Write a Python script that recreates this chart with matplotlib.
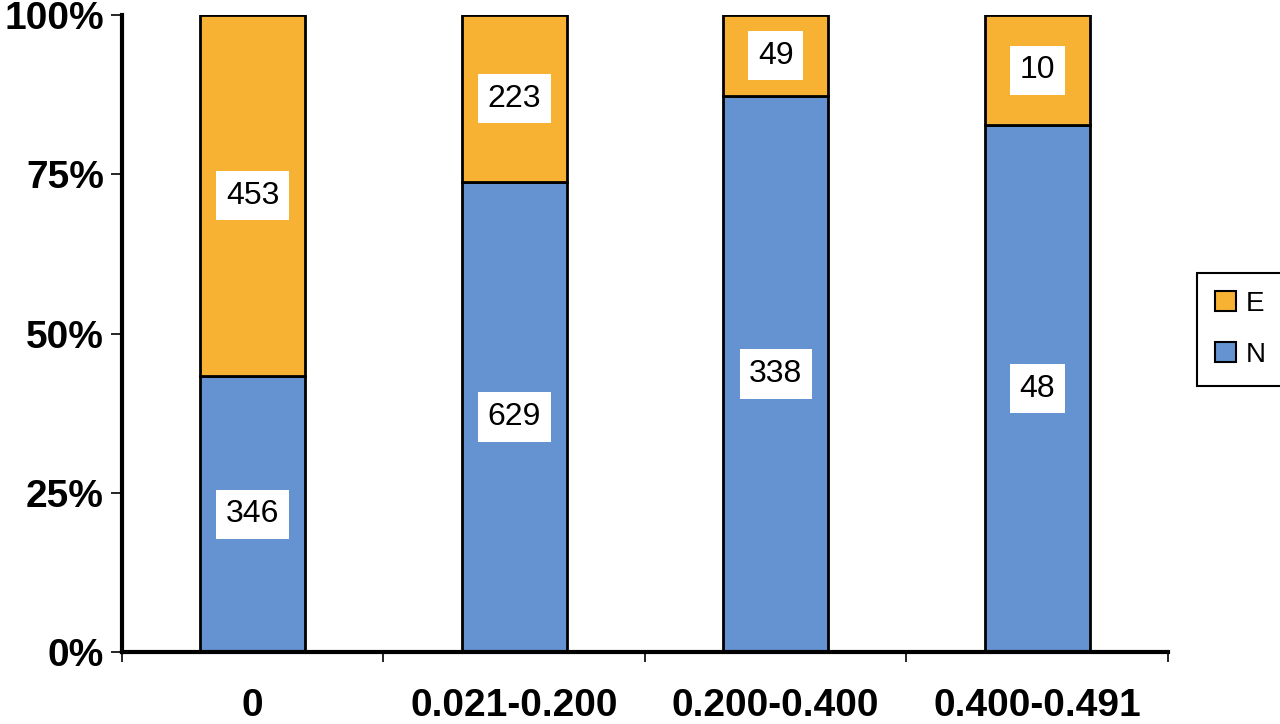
import matplotlib
matplotlib.use("Agg")
import matplotlib.pyplot as plt
from matplotlib.patches import Patch
import numpy as np

# data
categories = ["0", "0.021-0.200", "0.200-0.400", "0.400-0.491"]
n_counts = [346, 629, 338, 48]
e_counts = [453, 223, 49, 10]
yticks = [0, 25, 50, 75, 100]

blue = "#6593d2"
orange = "#f7b234"

plt.rcParams["font.family"] = ["Liberation Sans", "DejaVu Sans"]

n = np.array(n_counts, dtype=float)
e = np.array(e_counts, dtype=float)
tot = n + e
n_pct = n / tot * 100
e_pct = e / tot * 100
x = np.arange(len(categories))

fig = plt.figure(figsize=(12.8, 7.24), dpi=100)
ax = fig.add_axes([0.0953, 0.0994, 0.8172, 0.8796])

w = 0.40
ax.bar(x, n_pct, width=w, color=blue, edgecolor="black", linewidth=2, zorder=2)
ax.bar(x, e_pct, width=w, bottom=n_pct, color=orange, edgecolor="black", linewidth=2, zorder=2)

# white count labels
for i in range(len(x)):
    ax.text(x[i], n_pct[i] / 2, str(n_counts[i]), ha="center", va="center", fontsize=23,
            bbox=dict(boxstyle="square,pad=0.3", fc="white", ec="none"), zorder=3)
    ax.text(x[i], n_pct[i] + e_pct[i] / 2, str(e_counts[i]), ha="center", va="center", fontsize=23,
            bbox=dict(boxstyle="square,pad=0.3", fc="white", ec="none"), zorder=3)

ax.set_xlim(-0.5, len(x) - 0.5)
ax.set_ylim(0, 100)

ax.set_yticks(yticks)
ax.set_yticklabels([f"{v}%" for v in yticks], fontsize=28, fontweight="bold")
ax.set_xticks(x)
ax.set_xticklabels(categories, fontsize=28, fontweight="bold")
ax.set_xticks(np.arange(len(x) + 1) - 0.5, minor=True)
ax.tick_params(axis="x", which="major", length=0, pad=26)
ax.tick_params(axis="x", which="minor", length=7, width=1.2, direction="out")
ax.tick_params(axis="y", length=8, width=1.2, pad=5)

for s in ["top", "right"]:
    ax.spines[s].set_visible(False)
ax.spines["left"].set_linewidth(3)
ax.spines["bottom"].set_linewidth(3)

handles = [Patch(facecolor=orange, edgecolor="black", linewidth=1.5, label="E"),
           Patch(facecolor=blue, edgecolor="black", linewidth=1.5, label="N")]
leg = fig.legend(handles=handles, loc="upper left", bbox_to_anchor=(0.935, 0.623),
                 bbox_transform=fig.transFigure, borderaxespad=0, fontsize=20,
                 handlelength=0.75, handleheight=0.75, handletextpad=0.35,
                 labelspacing=0.9, fancybox=False, edgecolor="black",
                 borderpad=0.65, framealpha=1)
leg.get_frame().set_linewidth(1.5)

fig.savefig("out.png", dpi=100)
